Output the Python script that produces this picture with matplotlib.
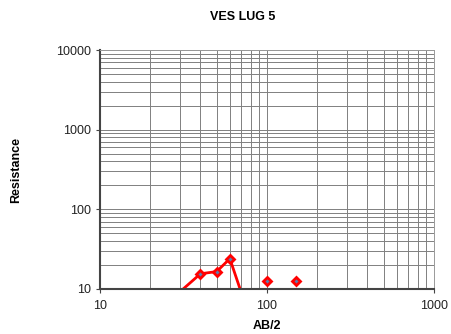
import matplotlib.pyplot as plt
from matplotlib.ticker import FixedLocator, LogLocator, NullFormatter
import numpy as np

plt.rcParams['font.family'] = ['Liberation Sans', 'DejaVu Sans']

# Sounding data (AB/2 vs apparent resistance)
ab2_line = [25, 40, 50, 60, 80]
res_line = [6.5, 15.5, 16.5, 24, 4]
ab2_pts = [100, 150]
res_pts = [12.5, 12.5]

fig = plt.figure(figsize=(4.52, 3.34), dpi=100)
ax = fig.add_axes([0.221, 0.135, 0.739, 0.715])

ax.set_xscale('log')
ax.set_yscale('log')
ax.set_xlim(10, 1000)
ax.set_ylim(10, 10000)

mk = dict(marker='D', markersize=4.5, markerfacecolor='#5a7fb0',
          markeredgecolor='red', markeredgewidth=2)
ax.plot(ab2_line, res_line, color='red', lw=2, **mk)
ax.plot(ab2_pts, res_pts, ls='none', **mk)

ax.xaxis.set_major_locator(FixedLocator([10, 100, 1000]))
ax.yaxis.set_major_locator(FixedLocator([10, 100, 1000, 10000]))
ax.xaxis.set_minor_locator(LogLocator(base=10, subs=np.arange(2, 10)))
ax.yaxis.set_minor_locator(LogLocator(base=10, subs=np.arange(2, 10)))
ax.xaxis.set_minor_formatter(NullFormatter())
ax.yaxis.set_minor_formatter(NullFormatter())
ax.set_xticklabels(['10', '100', '1000'])
ax.set_yticklabels(['10', '100', '1000', '10000'])

ax.grid(True, which='both', color='#808080', lw=0.7)
ax.set_axisbelow(True)
ax.tick_params(which='both', labelsize=9, length=3, direction='out', color='#444444',
               labelcolor='#222222')
ax.tick_params(which='minor', length=0)
ax.tick_params(axis='x', pad=5)

for s in ['top', 'right']:
    ax.spines[s].set_color('#999999')
    ax.spines[s].set_linewidth(0.7)
for s in ['left', 'bottom']:
    ax.spines[s].set_color('#444444')
    ax.spines[s].set_linewidth(1.5)

fig.text(0.538, 0.948, 'VES LUG 5', fontsize=9, fontweight='bold', ha='center', va='center')
ax.set_xlabel('AB/2', fontsize=9, fontweight='bold', labelpad=6)
ax.set_ylabel('Resistance', fontsize=9, fontweight='bold', labelpad=24)

fig.savefig('out.png', dpi=100)
